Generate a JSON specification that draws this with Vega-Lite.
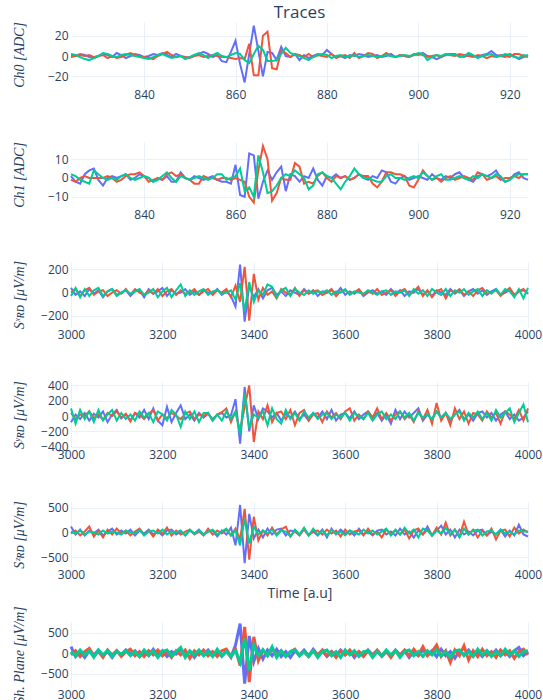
{
"$schema":"https://vega.github.io/schema/vega-lite/v6.json",
"padding":{"left":11,"top":3,"right":2,"bottom":0},
"background":"white",
"bounds":"flush",
"spacing":55,
"resolve":{"scale":{"x":"independent","y":"independent"}},
"config":{
 "view":{"stroke":null},
 "axis":{"domain":false,"ticks":false,"grid":true,"gridColor":"#EBF0F8","gridWidth":1,"labelFont":"Open Sans","labelFontSize":12,"labelColor":"#2a3f5f","labelOverlap":false,"labelFlush":false,"titleFont":"Liberation Serif","titleFontStyle":"italic","titleFontWeight":"normal","titleFontSize":14,"titleColor":"#2a3f5f"},
 "axisY":{"labelPadding":3,"titleX":-52,"titleBaseline":"middle"},
 "axisX":{"labelPadding":2},
 "line":{"strokeWidth":2,"clip":true}
},
"datasets":{
"p1":[
{"x":824,"a":1,"b":-1,"c":2},{"x":825,"a":0,"b":0,"c":1},{"x":826,"a":2,"b":1,"c":-1},{"x":827,"a":1,"b":0,"c":-3},{"x":828,"a":-1,"b":1,"c":-4},{"x":829,"a":-2,"b":-1,"c":-2},{"x":830,"a":0,"b":0,"c":0},{"x":831,"a":2,"b":1,"c":3},{"x":832,"a":1,"b":-2,"c":2},{"x":833,"a":-1,"b":0,"c":0},
{"x":834,"a":3,"b":-2,"c":-1},{"x":835,"a":1,"b":-1,"c":1},{"x":836,"a":-2,"b":1,"c":2},{"x":837,"a":0,"b":3,"c":1},{"x":838,"a":2,"b":1,"c":0},{"x":839,"a":1,"b":0,"c":-1},{"x":840,"a":-1,"b":-1,"c":-2},{"x":841,"a":0,"b":-2,"c":-3},{"x":842,"a":2,"b":-3,"c":-1},{"x":843,"a":1,"b":0,"c":1},
{"x":844,"a":3,"b":2,"c":2},{"x":845,"a":1,"b":4,"c":0},{"x":846,"a":-1,"b":1,"c":-2},{"x":847,"a":2,"b":-1,"c":-1},{"x":848,"a":0,"b":0,"c":0},{"x":849,"a":-2,"b":-1,"c":-3},{"x":850,"a":-1,"b":-2,"c":-1},{"x":851,"a":1,"b":0,"c":1},{"x":852,"a":2,"b":1,"c":3},{"x":853,"a":4,"b":-1,"c":1},
{"x":854,"a":2,"b":0,"c":-2},{"x":855,"a":-1,"b":1,"c":1},{"x":856,"a":1,"b":0,"c":3},{"x":857,"a":-5,"b":-1,"c":0},{"x":858,"a":-6,"b":-1,"c":-1},{"x":859,"a":4,"b":-2,"c":1},{"x":860,"a":15,"b":-3,"c":3},{"x":861,"a":-8,"b":-2,"c":2},{"x":862,"a":-26,"b":-3,"c":-4},{"x":863,"a":2,"b":12,"c":-7},
{"x":864,"a":30,"b":-19,"c":2},{"x":865,"a":5,"b":-19,"c":10},{"x":866,"a":-20,"b":20,"c":6},{"x":867,"a":4,"b":24,"c":-5},{"x":868,"a":3,"b":-12,"c":-5},{"x":869,"a":-4,"b":-13,"c":-4},{"x":870,"a":9,"b":5,"c":2},{"x":871,"a":0,"b":3,"c":8},{"x":872,"a":-1,"b":-1,"c":3},{"x":873,"a":2,"b":2,"c":1},
{"x":874,"a":-4,"b":1,"c":0},{"x":875,"a":1,"b":-1,"c":-2},{"x":876,"a":-2,"b":2,"c":-4},{"x":877,"a":0,"b":-1,"c":-1},{"x":878,"a":2,"b":1,"c":1},{"x":879,"a":1,"b":0,"c":2},{"x":880,"a":6,"b":-1,"c":1},{"x":881,"a":2,"b":2,"c":-2},{"x":882,"a":-1,"b":-2,"c":0},{"x":883,"a":0,"b":0,"c":1},
{"x":884,"a":-2,"b":1,"c":-1},{"x":885,"a":1,"b":-2,"c":0},{"x":886,"a":0,"b":3,"c":1},{"x":887,"a":2,"b":-2,"c":-1},{"x":888,"a":1,"b":0,"c":0},{"x":889,"a":-1,"b":3,"c":1},{"x":890,"a":0,"b":2,"c":0},{"x":891,"a":1,"b":-2,"c":-1},{"x":892,"a":-1,"b":0,"c":0},{"x":893,"a":0,"b":3,"c":1},
{"x":894,"a":2,"b":0,"c":0},{"x":895,"a":-1,"b":-1,"c":-1},{"x":896,"a":1,"b":1,"c":0},{"x":897,"a":0,"b":0,"c":1},{"x":898,"a":-1,"b":-1,"c":0},{"x":899,"a":2,"b":1,"c":1},{"x":900,"a":1,"b":2,"c":3},{"x":901,"a":3,"b":1,"c":2},{"x":902,"a":0,"b":-1,"c":-4},{"x":903,"a":-1,"b":0,"c":-1},
{"x":904,"a":-3,"b":1,"c":1},{"x":905,"a":-1,"b":-1,"c":0},{"x":906,"a":1,"b":2,"c":2},{"x":907,"a":2,"b":1,"c":1},{"x":908,"a":2,"b":0,"c":2},{"x":909,"a":0,"b":2,"c":-1},{"x":910,"a":-1,"b":1,"c":0},{"x":911,"a":1,"b":0,"c":3},{"x":912,"a":0,"b":-1,"c":1},{"x":913,"a":-1,"b":1,"c":-2},
{"x":914,"a":1,"b":0,"c":0},{"x":915,"a":2,"b":-2,"c":1},{"x":916,"a":5,"b":0,"c":2},{"x":917,"a":1,"b":-1,"c":-1},{"x":918,"a":0,"b":1,"c":0},{"x":919,"a":-1,"b":0,"c":2},{"x":920,"a":2,"b":-1,"c":1},{"x":921,"a":0,"b":2,"c":-1},{"x":922,"a":-3,"b":2,"c":-2},{"x":923,"a":-1,"b":0,"c":1},
{"x":924,"a":1,"b":-1,"c":0}
],
"p2":[
{"x":824,"a":1,"b":-1,"c":2},{"x":825,"a":-2,"b":-2,"c":1},{"x":826,"a":-3,"b":0,"c":-1},{"x":827,"a":2,"b":1,"c":-2},{"x":828,"a":4,"b":0,"c":-3},{"x":829,"a":5,"b":0,"c":4},{"x":830,"a":-1,"b":0,"c":2},{"x":831,"a":-4,"b":0,"c":0},{"x":832,"a":0,"b":1,"c":-1},{"x":833,"a":1,"b":0,"c":0},
{"x":834,"a":0,"b":-2,"c":-1},{"x":835,"a":1,"b":-1,"c":1},{"x":836,"a":2,"b":1,"c":2},{"x":837,"a":-1,"b":2,"c":0},{"x":838,"a":0,"b":2,"c":-1},{"x":839,"a":2,"b":3,"c":0},{"x":840,"a":1,"b":1,"c":1},{"x":841,"a":0,"b":-2,"c":0},{"x":842,"a":-2,"b":-1,"c":-2},{"x":843,"a":0,"b":0,"c":-1},
{"x":844,"a":-1,"b":-1,"c":1},{"x":845,"a":1,"b":2,"c":3},{"x":846,"a":-2,"b":3,"c":0},{"x":847,"a":-2,"b":1,"c":-2},{"x":848,"a":3,"b":2,"c":1},{"x":849,"a":0,"b":0,"c":0},{"x":850,"a":-1,"b":-1,"c":-1},{"x":851,"a":1,"b":-3,"c":0},{"x":852,"a":0,"b":-3,"c":1},{"x":853,"a":-1,"b":1,"c":0},
{"x":854,"a":0,"b":0,"c":-1},{"x":855,"a":1,"b":0,"c":0},{"x":856,"a":-1,"b":-1,"c":2},{"x":857,"a":-2,"b":0,"c":2},{"x":858,"a":-2,"b":0,"c":-1},{"x":859,"a":-3,"b":-1,"c":0},{"x":860,"a":7,"b":0,"c":1},{"x":861,"a":-9,"b":-1,"c":5},{"x":862,"a":-10,"b":-2,"c":-7},{"x":863,"a":13,"b":-10,"c":-5},
{"x":864,"a":12,"b":-13,"c":-10},{"x":865,"a":-11,"b":4,"c":12},{"x":866,"a":-2,"b":17,"c":3},{"x":867,"a":4,"b":10,"c":-8},{"x":868,"a":-1,"b":-12,"c":-7},{"x":869,"a":3,"b":-8,"c":-4},{"x":870,"a":6,"b":0,"c":0},{"x":871,"a":-7,"b":-1,"c":2},{"x":872,"a":2,"b":-1,"c":1},{"x":873,"a":1,"b":8,"c":4},
{"x":874,"a":-2,"b":6,"c":2},{"x":875,"a":1,"b":-3,"c":0},{"x":876,"a":0,"b":-2,"c":-6},{"x":877,"a":5,"b":-3,"c":-4},{"x":878,"a":-1,"b":1,"c":2},{"x":879,"a":-4,"b":3,"c":3},{"x":880,"a":1,"b":0,"c":1},{"x":881,"a":0,"b":-2,"c":0},{"x":882,"a":2,"b":1,"c":-3},{"x":883,"a":0,"b":0,"c":-6},
{"x":884,"a":1,"b":1,"c":-2},{"x":885,"a":-1,"b":-1,"c":1},{"x":886,"a":0,"b":0,"c":5},{"x":887,"a":2,"b":2,"c":2},{"x":888,"a":0,"b":1,"c":0},{"x":889,"a":-1,"b":1,"c":0},{"x":890,"a":1,"b":-3,"c":-1},{"x":891,"a":0,"b":-5,"c":-2},{"x":892,"a":4,"b":-2,"c":-2},{"x":893,"a":3,"b":3,"c":1},
{"x":894,"a":-2,"b":3,"c":2},{"x":895,"a":-3,"b":2,"c":0},{"x":896,"a":0,"b":2,"c":0},{"x":897,"a":1,"b":1,"c":-1},{"x":898,"a":-1,"b":-4,"c":0},{"x":899,"a":0,"b":-5,"c":1},{"x":900,"a":1,"b":-1,"c":0},{"x":901,"a":0,"b":4,"c":3},{"x":902,"a":-1,"b":1,"c":1},{"x":903,"a":2,"b":-1,"c":-1},
{"x":904,"a":0,"b":0,"c":1},{"x":905,"a":-1,"b":-2,"c":2},{"x":906,"a":1,"b":0,"c":-1},{"x":907,"a":0,"b":1,"c":-1},{"x":908,"a":2,"b":-1,"c":0},{"x":909,"a":3,"b":0,"c":1},{"x":910,"a":0,"b":1,"c":0},{"x":911,"a":-1,"b":0,"c":-1},{"x":912,"a":-2,"b":-1,"c":1},{"x":913,"a":1,"b":3,"c":0},
{"x":914,"a":2,"b":2,"c":2},{"x":915,"a":1,"b":-1,"c":1},{"x":916,"a":2,"b":0,"c":0},{"x":917,"a":4,"b":1,"c":2},{"x":918,"a":0,"b":-1,"c":1},{"x":919,"a":-2,"b":0,"c":-2},{"x":920,"a":-1,"b":0,"c":-1},{"x":921,"a":2,"b":1,"c":1},{"x":922,"a":3,"b":0,"c":2},{"x":923,"a":0,"b":2,"c":2},
{"x":924,"a":-1,"b":2,"c":2}
],
"p3":[
{"x":3000,"a":40,"b":0,"c":-30},{"x":3010,"a":-20,"b":30,"c":40},{"x":3020,"a":10,"b":-30,"c":-40},{"x":3030,"a":-30,"b":20,"c":30},{"x":3040,"a":30,"b":40,"c":-30},{"x":3050,"a":-10,"b":-20,"c":20},{"x":3060,"a":20,"b":10,"c":40},{"x":3070,"a":-40,"b":20,"c":-30},{"x":3080,"a":10,"b":-30,"c":10},{"x":3090,"a":30,"b":0,"c":30},
{"x":3100,"a":-20,"b":20,"c":-30},{"x":3110,"a":0,"b":-10,"c":0},{"x":3120,"a":20,"b":30,"c":20},{"x":3130,"a":-30,"b":-20,"c":-10},{"x":3140,"a":10,"b":30,"c":10},{"x":3150,"a":20,"b":0,"c":30},{"x":3160,"a":-40,"b":-20,"c":-20},{"x":3170,"a":30,"b":20,"c":0},{"x":3180,"a":-10,"b":-10,"c":30},{"x":3190,"a":10,"b":30,"c":-40},
{"x":3200,"a":40,"b":-30,"c":10},{"x":3210,"a":-30,"b":10,"c":40},{"x":3220,"a":20,"b":30,"c":-40},{"x":3230,"a":-10,"b":-20,"c":20},{"x":3240,"a":0,"b":20,"c":70},{"x":3250,"a":30,"b":-10,"c":-30},{"x":3260,"a":-20,"b":0,"c":20},{"x":3270,"a":10,"b":30,"c":-20},{"x":3280,"a":-20,"b":-20,"c":10},{"x":3290,"a":20,"b":10,"c":30},
{"x":3300,"a":0,"b":30,"c":-20},{"x":3310,"a":-10,"b":-20,"c":10},{"x":3320,"a":30,"b":20,"c":20},{"x":3330,"a":-20,"b":0,"c":-10},{"x":3340,"a":10,"b":30,"c":0},{"x":3350,"a":-30,"b":-40,"c":20},{"x":3360,"a":-120,"b":60,"c":-60},{"x":3370,"a":240,"b":-80,"c":80},{"x":3380,"a":-250,"b":220,"c":-160},{"x":3390,"a":60,"b":-240,"c":90},
{"x":3400,"a":-40,"b":160,"c":-80},{"x":3410,"a":30,"b":-60,"c":20},{"x":3420,"a":-50,"b":40,"c":-20},{"x":3430,"a":20,"b":-20,"c":70},{"x":3440,"a":40,"b":10,"c":50},{"x":3450,"a":-20,"b":-50,"c":-40},{"x":3460,"a":10,"b":30,"c":20},{"x":3470,"a":-30,"b":0,"c":40},{"x":3480,"a":20,"b":-20,"c":-30},{"x":3490,"a":0,"b":40,"c":30},
{"x":3500,"a":-20,"b":-30,"c":0},{"x":3510,"a":30,"b":20,"c":-20},{"x":3520,"a":-10,"b":-10,"c":20},{"x":3530,"a":20,"b":10,"c":-10},{"x":3540,"a":-30,"b":20,"c":10},{"x":3550,"a":10,"b":-20,"c":0},{"x":3560,"a":0,"b":0,"c":20},{"x":3570,"a":20,"b":30,"c":-20},{"x":3580,"a":-10,"b":-30,"c":10},{"x":3590,"a":40,"b":10,"c":0},
{"x":3600,"a":-20,"b":20,"c":30},{"x":3610,"a":10,"b":-10,"c":-20},{"x":3620,"a":-10,"b":0,"c":10},{"x":3630,"a":20,"b":30,"c":0},{"x":3640,"a":-30,"b":-20,"c":-10},{"x":3650,"a":0,"b":10,"c":20},{"x":3660,"a":20,"b":-10,"c":0},{"x":3670,"a":-10,"b":30,"c":-20},{"x":3680,"a":10,"b":-20,"c":10},{"x":3690,"a":-20,"b":0,"c":20},
{"x":3700,"a":30,"b":20,"c":-20},{"x":3710,"a":-10,"b":-30,"c":10},{"x":3720,"a":20,"b":10,"c":0},{"x":3730,"a":-30,"b":30,"c":20},{"x":3740,"a":10,"b":-20,"c":-30},{"x":3750,"a":0,"b":10,"c":30},{"x":3760,"a":30,"b":50,"c":-10},{"x":3770,"a":-20,"b":-30,"c":20},{"x":3780,"a":10,"b":20,"c":-30},{"x":3790,"a":-30,"b":-40,"c":30},
{"x":3800,"a":20,"b":10,"c":0},{"x":3810,"a":0,"b":30,"c":-20},{"x":3820,"a":-20,"b":-50,"c":30},{"x":3830,"a":30,"b":20,"c":-30},{"x":3840,"a":-10,"b":0,"c":20},{"x":3850,"a":20,"b":30,"c":0},{"x":3860,"a":-30,"b":-20,"c":30},{"x":3870,"a":10,"b":10,"c":-20},{"x":3880,"a":30,"b":-30,"c":10},{"x":3890,"a":-10,"b":20,"c":30},
{"x":3900,"a":20,"b":40,"c":-30},{"x":3910,"a":-20,"b":-10,"c":20},{"x":3920,"a":10,"b":0,"c":-10},{"x":3930,"a":30,"b":20,"c":30},{"x":3940,"a":-20,"b":-30,"c":-20},{"x":3950,"a":0,"b":10,"c":30},{"x":3960,"a":20,"b":40,"c":10},{"x":3970,"a":-30,"b":-20,"c":-40},{"x":3980,"a":10,"b":10,"c":30},{"x":3990,"a":20,"b":30,"c":-50},
{"x":4000,"a":-10,"b":-10,"c":40}
],
"p4":[
{"x":3000,"a":-80,"b":40,"c":100},{"x":3010,"a":20,"b":-40,"c":-100},{"x":3020,"a":-40,"b":20,"c":80},{"x":3030,"a":40,"b":0,"c":-40},{"x":3040,"a":-60,"b":60,"c":60},{"x":3050,"a":30,"b":-30,"c":-80},{"x":3060,"a":-20,"b":20,"c":80},{"x":3070,"a":60,"b":-50,"c":-60},{"x":3080,"a":-80,"b":40,"c":20},{"x":3090,"a":20,"b":0,"c":80},
{"x":3100,"a":80,"b":60,"c":-60},{"x":3110,"a":-30,"b":-20,"c":40},{"x":3120,"a":20,"b":30,"c":-40},{"x":3130,"a":-60,"b":-70,"c":20},{"x":3140,"a":40,"b":40,"c":-60},{"x":3150,"a":-20,"b":20,"c":60},{"x":3160,"a":80,"b":-40,"c":-20},{"x":3170,"a":-40,"b":30,"c":40},{"x":3180,"a":100,"b":80,"c":-80},{"x":3190,"a":-60,"b":-60,"c":60},
{"x":3200,"a":-120,"b":20,"c":20},{"x":3210,"a":120,"b":-30,"c":-60},{"x":3220,"a":-80,"b":40,"c":80},{"x":3230,"a":40,"b":0,"c":20},{"x":3240,"a":140,"b":-40,"c":-140},{"x":3250,"a":-40,"b":30,"c":60},{"x":3260,"a":20,"b":60,"c":-40},{"x":3270,"a":-60,"b":-40,"c":60},{"x":3280,"a":40,"b":20,"c":-80},{"x":3290,"a":-20,"b":0,"c":40},
{"x":3300,"a":30,"b":40,"c":40},{"x":3310,"a":-40,"b":-60,"c":-60},{"x":3320,"a":20,"b":20,"c":20},{"x":3330,"a":40,"b":50,"c":-60},{"x":3340,"a":-20,"b":100,"c":60},{"x":3350,"a":10,"b":-80,"c":-40},{"x":3360,"a":220,"b":60,"c":60},{"x":3370,"a":-360,"b":-200,"c":-240},{"x":3380,"a":380,"b":120,"c":300},{"x":3390,"a":-200,"b":400,"c":-160},
{"x":3400,"a":140,"b":-340,"c":20},{"x":3410,"a":-40,"b":60,"c":-20},{"x":3420,"a":100,"b":-40,"c":60},{"x":3430,"a":60,"b":140,"c":-120},{"x":3440,"a":-20,"b":-80,"c":100},{"x":3450,"a":40,"b":40,"c":-40},{"x":3460,"a":-60,"b":60,"c":-100},{"x":3470,"a":30,"b":-40,"c":80},{"x":3480,"a":-20,"b":80,"c":-40},{"x":3490,"a":60,"b":-120,"c":40},
{"x":3500,"a":-40,"b":40,"c":-60},{"x":3510,"a":20,"b":80,"c":60},{"x":3520,"a":-60,"b":-60,"c":-20},{"x":3530,"a":40,"b":20,"c":40},{"x":3540,"a":-20,"b":40,"c":-40},{"x":3550,"a":60,"b":-80,"c":20},{"x":3560,"a":-40,"b":60,"c":40},{"x":3570,"a":80,"b":-20,"c":-40},{"x":3580,"a":-60,"b":40,"c":20},{"x":3590,"a":20,"b":-40,"c":-20},
{"x":3600,"a":40,"b":60,"c":40},{"x":3610,"a":-30,"b":100,"c":-60},{"x":3620,"a":60,"b":-60,"c":40},{"x":3630,"a":-40,"b":20,"c":0},{"x":3640,"a":20,"b":-40,"c":-40},{"x":3650,"a":60,"b":60,"c":40},{"x":3660,"a":-20,"b":-20,"c":-60},{"x":3670,"a":40,"b":100,"c":20},{"x":3680,"a":-60,"b":-40,"c":60},{"x":3690,"a":20,"b":40,"c":-40},
{"x":3700,"a":-100,"b":-60,"c":20},{"x":3710,"a":80,"b":20,"c":-40},{"x":3720,"a":-40,"b":60,"c":60},{"x":3730,"a":60,"b":-40,"c":-20},{"x":3740,"a":-20,"b":20,"c":40},{"x":3750,"a":40,"b":-80,"c":-60},{"x":3760,"a":100,"b":60,"c":40},{"x":3770,"a":-60,"b":-40,"c":-20},{"x":3780,"a":20,"b":80,"c":20},{"x":3790,"a":-40,"b":-100,"c":-40},
{"x":3800,"a":60,"b":170,"c":60},{"x":3810,"a":-20,"b":-60,"c":-20},{"x":3820,"a":40,"b":40,"c":40},{"x":3830,"a":-60,"b":-120,"c":-40},{"x":3840,"a":20,"b":100,"c":20},{"x":3850,"a":80,"b":-40,"c":60},{"x":3860,"a":-40,"b":60,"c":-60},{"x":3870,"a":20,"b":-100,"c":40},{"x":3880,"a":-60,"b":40,"c":-20},{"x":3890,"a":40,"b":20,"c":60},
{"x":3900,"a":60,"b":-60,"c":-40},{"x":3910,"a":-20,"b":60,"c":40},{"x":3920,"a":40,"b":-20,"c":-60},{"x":3930,"a":-60,"b":40,"c":80},{"x":3940,"a":20,"b":-100,"c":-20},{"x":3950,"a":60,"b":60,"c":40},{"x":3960,"a":-40,"b":20,"c":100},{"x":3970,"a":20,"b":-40,"c":-80},{"x":3980,"a":-60,"b":80,"c":40},{"x":3990,"a":-20,"b":-60,"c":150},
{"x":4000,"a":60,"b":100,"c":-80}
],
"p5":[
{"x":3000,"a":120,"b":-20,"c":20},{"x":3010,"a":-40,"b":40,"c":-20},{"x":3020,"a":60,"b":-60,"c":40},{"x":3030,"a":-60,"b":20,"c":-40},{"x":3040,"a":40,"b":120,"c":20},{"x":3050,"a":-20,"b":-80,"c":0},{"x":3060,"a":60,"b":40,"c":-40},{"x":3070,"a":-60,"b":-100,"c":40},{"x":3080,"a":20,"b":60,"c":-20},{"x":3090,"a":80,"b":-40,"c":20},
{"x":3100,"a":-40,"b":80,"c":0},{"x":3110,"a":40,"b":-20,"c":-40},{"x":3120,"a":-20,"b":40,"c":40},{"x":3130,"a":60,"b":-60,"c":0},{"x":3140,"a":-60,"b":20,"c":-20},{"x":3150,"a":40,"b":80,"c":60},{"x":3160,"a":-20,"b":-40,"c":-60},{"x":3170,"a":60,"b":40,"c":20},{"x":3180,"a":-40,"b":-80,"c":40},{"x":3190,"a":20,"b":60,"c":-20},
{"x":3200,"a":-60,"b":-20,"c":60},{"x":3210,"a":40,"b":100,"c":-40},{"x":3220,"a":60,"b":-60,"c":20},{"x":3230,"a":-40,"b":40,"c":0},{"x":3240,"a":20,"b":-40,"c":40},{"x":3250,"a":-60,"b":20,"c":-60},{"x":3260,"a":40,"b":60,"c":60},{"x":3270,"a":-20,"b":-40,"c":-20},{"x":3280,"a":60,"b":20,"c":40},{"x":3290,"a":-40,"b":-60,"c":-40},
{"x":3300,"a":20,"b":80,"c":20},{"x":3310,"a":40,"b":-40,"c":60},{"x":3320,"a":-80,"b":40,"c":-40},{"x":3330,"a":40,"b":-20,"c":20},{"x":3340,"a":-40,"b":60,"c":80},{"x":3350,"a":100,"b":-60,"c":-60},{"x":3360,"a":-260,"b":80,"c":40},{"x":3370,"a":560,"b":-140,"c":-260},{"x":3380,"a":-620,"b":480,"c":280},{"x":3390,"a":380,"b":-550,"c":-220},
{"x":3400,"a":-120,"b":320,"c":120},{"x":3410,"a":60,"b":-160,"c":-40},{"x":3420,"a":-100,"b":40,"c":40},{"x":3430,"a":80,"b":-60,"c":-20},{"x":3440,"a":-40,"b":100,"c":60},{"x":3450,"a":60,"b":-40,"c":-60},{"x":3460,"a":80,"b":60,"c":40},{"x":3470,"a":-60,"b":120,"c":20},{"x":3480,"a":40,"b":-80,"c":-80},{"x":3490,"a":20,"b":40,"c":60},
{"x":3500,"a":-60,"b":-40,"c":-40},{"x":3510,"a":80,"b":60,"c":100},{"x":3520,"a":-40,"b":-60,"c":-60},{"x":3530,"a":20,"b":20,"c":80},{"x":3540,"a":-60,"b":40,"c":-40},{"x":3550,"a":60,"b":-40,"c":40},{"x":3560,"a":-100,"b":60,"c":-60},{"x":3570,"a":80,"b":-20,"c":60},{"x":3580,"a":-40,"b":40,"c":-20},{"x":3590,"a":60,"b":-80,"c":20},
{"x":3600,"a":-20,"b":60,"c":-60},{"x":3610,"a":40,"b":-40,"c":40},{"x":3620,"a":-60,"b":20,"c":0},{"x":3630,"a":80,"b":40,"c":-40},{"x":3640,"a":-40,"b":-60,"c":60},{"x":3650,"a":20,"b":80,"c":-20},{"x":3660,"a":-60,"b":-40,"c":40},{"x":3670,"a":40,"b":20,"c":-40},{"x":3680,"a":60,"b":-100,"c":20},{"x":3690,"a":-40,"b":60,"c":80},
{"x":3700,"a":20,"b":-20,"c":-60},{"x":3710,"a":-60,"b":40,"c":60},{"x":3720,"a":80,"b":-40,"c":-40},{"x":3730,"a":-40,"b":60,"c":100},{"x":3740,"a":20,"b":-120,"c":-20},{"x":3750,"a":-100,"b":40,"c":60},{"x":3760,"a":40,"b":80,"c":-100},{"x":3770,"a":-40,"b":-40,"c":80},{"x":3780,"a":120,"b":60,"c":40},{"x":3790,"a":-60,"b":-60,"c":-60},
{"x":3800,"a":40,"b":100,"c":40},{"x":3810,"a":140,"b":-40,"c":-20},{"x":3820,"a":-40,"b":200,"c":100},{"x":3830,"a":60,"b":-60,"c":-40},{"x":3840,"a":-100,"b":60,"c":60},{"x":3850,"a":60,"b":-80,"c":-100},{"x":3860,"a":-40,"b":220,"c":80},{"x":3870,"a":20,"b":-40,"c":-40},{"x":3880,"a":-60,"b":60,"c":40},{"x":3890,"a":40,"b":-100,"c":60},
{"x":3900,"a":60,"b":40,"c":-60},{"x":3910,"a":-60,"b":-60,"c":20},{"x":3920,"a":20,"b":80,"c":40},{"x":3930,"a":-40,"b":-140,"c":-40},{"x":3940,"a":60,"b":40,"c":60},{"x":3950,"a":-80,"b":60,"c":-20},{"x":3960,"a":40,"b":-80,"c":20},{"x":3970,"a":-60,"b":100,"c":-40},{"x":3980,"a":160,"b":-20,"c":40},{"x":3990,"a":-40,"b":60,"c":20},
{"x":4000,"a":-80,"b":0,"c":20}
],
"p6":[
{"x":3000,"a":160,"b":-40,"c":40},{"x":3010,"a":-80,"b":60,"c":-60},{"x":3020,"a":40,"b":-80,"c":80},{"x":3030,"a":-100,"b":40,"c":-40},{"x":3040,"a":60,"b":120,"c":60},{"x":3050,"a":-40,"b":-60,"c":-100},{"x":3060,"a":80,"b":40,"c":80},{"x":3070,"a":-60,"b":-100,"c":-40},{"x":3080,"a":40,"b":80,"c":60},{"x":3090,"a":-100,"b":-40,"c":-80},
{"x":3100,"a":60,"b":60,"c":40},{"x":3110,"a":-40,"b":-80,"c":-20},{"x":3120,"a":80,"b":40,"c":60},{"x":3130,"a":-20,"b":100,"c":-60},{"x":3140,"a":60,"b":-60,"c":40},{"x":3150,"a":-80,"b":40,"c":-80},{"x":3160,"a":40,"b":-80,"c":80},{"x":3170,"a":-60,"b":60,"c":-40},{"x":3180,"a":100,"b":-40,"c":60},{"x":3190,"a":-40,"b":80,"c":-100},
{"x":3200,"a":60,"b":-60,"c":40},{"x":3210,"a":-80,"b":40,"c":80},{"x":3220,"a":40,"b":-100,"c":-60},{"x":3230,"a":-20,"b":60,"c":40},{"x":3240,"a":80,"b":-40,"c":140},{"x":3250,"a":-60,"b":80,"c":-100},{"x":3260,"a":40,"b":-120,"c":60},{"x":3270,"a":-100,"b":60,"c":-40},{"x":3280,"a":60,"b":-40,"c":80},{"x":3290,"a":-40,"b":80,"c":-60},
{"x":3300,"a":80,"b":-60,"c":40},{"x":3310,"a":-60,"b":40,"c":-80},{"x":3320,"a":40,"b":-80,"c":100},{"x":3330,"a":-80,"b":60,"c":-60},{"x":3340,"a":60,"b":100,"c":40},{"x":3350,"a":-100,"b":-80,"c":-80},{"x":3360,"a":200,"b":100,"c":60},{"x":3370,"a":720,"b":-300,"c":-220},{"x":3380,"a":-740,"b":640,"c":360},{"x":3390,"a":420,"b":-700,"c":-420},
{"x":3400,"a":-200,"b":400,"c":200},{"x":3410,"a":120,"b":-180,"c":-60},{"x":3420,"a":-140,"b":80,"c":80},{"x":3430,"a":80,"b":-60,"c":-60},{"x":3440,"a":-60,"b":100,"c":160},{"x":3450,"a":100,"b":-40,"c":-100},{"x":3460,"a":-80,"b":60,"c":60},{"x":3470,"a":40,"b":-80,"c":-80},{"x":3480,"a":-100,"b":40,"c":40},{"x":3490,"a":60,"b":100,"c":80},
{"x":3500,"a":-40,"b":-60,"c":-60},{"x":3510,"a":80,"b":40,"c":40},{"x":3520,"a":-60,"b":-80,"c":-80},{"x":3530,"a":100,"b":60,"c":60},{"x":3540,"a":-40,"b":-40,"c":-100},{"x":3550,"a":60,"b":80,"c":40},{"x":3560,"a":-80,"b":-60,"c":80},{"x":3570,"a":40,"b":40,"c":-60},{"x":3580,"a":-60,"b":-100,"c":40},{"x":3590,"a":80,"b":60,"c":-100},
{"x":3600,"a":-40,"b":-40,"c":80},{"x":3610,"a":60,"b":80,"c":-40},{"x":3620,"a":-100,"b":-60,"c":60},{"x":3630,"a":40,"b":40,"c":-80},{"x":3640,"a":-60,"b":-80,"c":40},{"x":3650,"a":80,"b":60,"c":60},{"x":3660,"a":-40,"b":-40,"c":-100},{"x":3670,"a":60,"b":80,"c":40},{"x":3680,"a":-80,"b":-60,"c":-60},{"x":3690,"a":40,"b":40,"c":80},
{"x":3700,"a":-60,"b":-100,"c":-40},{"x":3710,"a":80,"b":60,"c":60},{"x":3720,"a":-40,"b":-40,"c":-100},{"x":3730,"a":60,"b":80,"c":40},{"x":3740,"a":-100,"b":-60,"c":80},{"x":3750,"a":40,"b":100,"c":-60},{"x":3760,"a":-60,"b":-40,"c":40},{"x":3770,"a":80,"b":160,"c":-80},{"x":3780,"a":-40,"b":-60,"c":60},{"x":3790,"a":60,"b":40,"c":-40},
{"x":3800,"a":-80,"b":200,"c":80},{"x":3810,"a":100,"b":-80,"c":-60},{"x":3820,"a":-60,"b":60,"c":40},{"x":3830,"a":40,"b":-220,"c":-100},{"x":3840,"a":-120,"b":80,"c":60},{"x":3850,"a":60,"b":-60,"c":80},{"x":3860,"a":-40,"b":180,"c":-60},{"x":3870,"a":80,"b":-160,"c":40},{"x":3880,"a":-60,"b":60,"c":-80},{"x":3890,"a":40,"b":-80,"c":100},
{"x":3900,"a":-80,"b":100,"c":-40},{"x":3910,"a":60,"b":-60,"c":60},{"x":3920,"a":-40,"b":40,"c":-80},{"x":3930,"a":80,"b":-100,"c":40},{"x":3940,"a":-60,"b":80,"c":-60},{"x":3950,"a":40,"b":-40,"c":100},{"x":3960,"a":-80,"b":60,"c":-40},{"x":3970,"a":60,"b":-120,"c":60},{"x":3980,"a":140,"b":40,"c":-80},{"x":3990,"a":-60,"b":100,"c":40},
{"x":4000,"a":40,"b":-40,"c":60}
]
},
"vconcat":[
{"width":457,"height":65,"data":{"name":"p1"},
 "title":{"text":"Traces","frame":"group","anchor":"middle","fontSize":17,"font":"Open Sans","fontWeight":"normal","color":"#2a3f5f","baseline":"alphabetic","offset":-13},
 "transform":[{"fold":["a","b","c"],"as":["s","v"]}],
 "mark":{"type":"line"},
 "encoding":{
  "x":{"field":"x","type":"quantitative","scale":{"domain":[824,924],"nice":false,"zero":false},"axis":{"values":[840,860,880,900,920],"title":null}},
  "y":{"field":"v","type":"quantitative","scale":{"domain":[-30.5,33.5],"nice":false,"zero":false},"axis":{"values":[-20,0,20],"title":"Ch0 [ADC]"}},
  "color":{"field":"s","type":"nominal","scale":{"domain":["a","b","c"],"range":["#636efa","#EF553B","#00cc96"]},"legend":null}}},
{"width":457,"height":65,"data":{"name":"p2"},
 "transform":[{"fold":["a","b","c"],"as":["s","v"]}],
 "mark":{"type":"line"},
 "encoding":{
  "x":{"field":"x","type":"quantitative","scale":{"domain":[824,924],"nice":false,"zero":false},"axis":{"values":[840,860,880,900,920],"title":null}},
  "y":{"field":"v","type":"quantitative","scale":{"domain":[-15.4,19.1],"nice":false,"zero":false},"axis":{"values":[-10,0,10],"title":"Ch1 [ADC]"}},
  "color":{"field":"s","type":"nominal","scale":{"domain":["a","b","c"],"range":["#636efa","#EF553B","#00cc96"]},"legend":null}}},
{"width":457,"height":65,"data":{"name":"p3"},
 "transform":[{"fold":["a","b","c"],"as":["s","v"]}],
 "mark":{"type":"line"},
 "encoding":{
  "x":{"field":"x","type":"quantitative","scale":{"domain":[3000,4000],"nice":false,"zero":false},"axis":{"values":[3000,3200,3400,3600,3800,4000],"format":"d","title":null}},
  "y":{"field":"v","type":"quantitative","scale":{"domain":[-295,262],"nice":false,"zero":false},"axis":{"values":[-200,0,200],"title":"Sˣʀᴅ [μV/m]"}},
  "color":{"field":"s","type":"nominal","scale":{"domain":["a","b","c"],"range":["#636efa","#EF553B","#00cc96"]},"legend":null}}},
{"width":457,"height":65,"data":{"name":"p4"},
 "transform":[{"fold":["a","b","c"],"as":["s","v"]}],
 "mark":{"type":"line"},
 "encoding":{
  "x":{"field":"x","type":"quantitative","scale":{"domain":[3000,4000],"nice":false,"zero":false},"axis":{"values":[3000,3200,3400,3600,3800,4000],"format":"d","title":null}},
  "y":{"field":"v","type":"quantitative","scale":{"domain":[-405,445],"nice":false,"zero":false},"axis":{"values":[-400,-200,0,200,400],"title":"Sʸʀᴅ [μV/m]"}},
  "color":{"field":"s","type":"nominal","scale":{"domain":["a","b","c"],"range":["#636efa","#EF553B","#00cc96"]},"legend":null}}},
{"width":457,"height":65,"data":{"name":"p5"},
 "transform":[{"fold":["a","b","c"],"as":["s","v"]}],
 "mark":{"type":"line"},
 "encoding":{
  "x":{"field":"x","type":"quantitative","scale":{"domain":[3000,4000],"nice":false,"zero":false},"axis":{"values":[3000,3200,3400,3600,3800,4000],"format":"d","title":"Time [a.u]","titleFont":"Open Sans","titleFontStyle":"normal","titleFontSize":14,"titlePadding":6}},
  "y":{"field":"v","type":"quantitative","scale":{"domain":[-700,620],"nice":false,"zero":false},"axis":{"values":[-500,0,500],"title":"Sᶻʀᴅ [μV/m]"}},
  "color":{"field":"s","type":"nominal","scale":{"domain":["a","b","c"],"range":["#636efa","#EF553B","#00cc96"]},"legend":null}}},
{"width":457,"height":65,"data":{"name":"p6"},
 "transform":[{"fold":["a","b","c"],"as":["s","v"]}],
 "mark":{"type":"line","strokeWidth":3},
 "encoding":{
  "x":{"field":"x","type":"quantitative","scale":{"domain":[3000,4000],"nice":false,"zero":false},"axis":{"values":[3000,3200,3400,3600,3800,4000],"format":"d","title":null}},
  "y":{"field":"v","type":"quantitative","scale":{"domain":[-820,760],"nice":false,"zero":false},"axis":{"values":[-500,0,500],"title":"Sh. Plane [μV/m]"}},
  "color":{"field":"s","type":"nominal","scale":{"domain":["a","b","c"],"range":["#636efa","#EF553B","#00cc96"]},"legend":null}}}
]
}
